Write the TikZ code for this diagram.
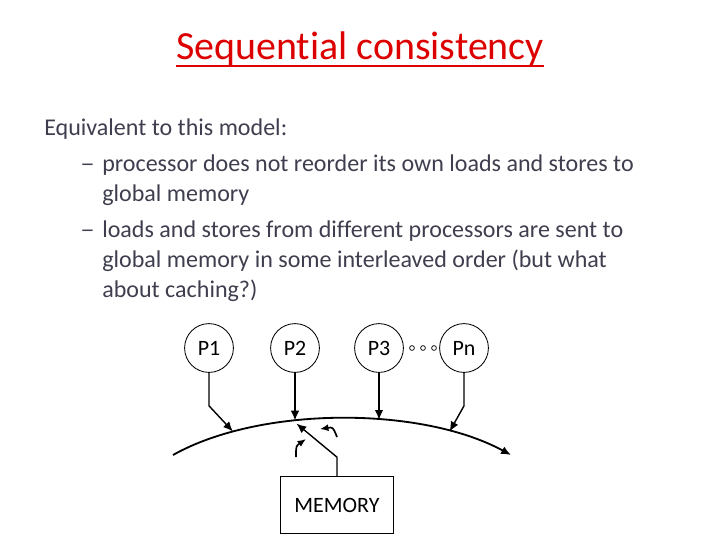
\documentclass[tikz,border=0pt]{standalone}
\usepackage{fontspec}
\setmainfont{Carlito}[Ligatures={NoCommon}]
\usetikzlibrary{arrows.meta}

\definecolor{titlered}{RGB}{220,0,0}
\definecolor{bodygray}{RGB}{62,62,78}

\newcommand{\titlesize}{\fontsize{28.4pt}{34pt}\selectfont}
\newcommand{\bodysize}{\fontsize{17.1pt}{21pt}\selectfont}
\newcommand{\figsize}{\fontsize{15.6pt}{19pt}\selectfont}

\begin{document}
\begin{tikzpicture}[
    x=0.025cm, y=-0.025cm,
    title/.style={
        anchor=base,
        inner sep=0pt,
        text=titlered,
        font=\titlesize
    },
    line/.style={
        anchor=base west,
        inner sep=0pt,
        text=bodygray,
        font=\bodysize
    },
    proc/.style={
        draw,
        circle,
        line width=0.6pt,
        minimum size=1.22cm,
        inner sep=0pt,
        font=\figsize
    },
    dot/.style={
        draw,
        circle,
        line width=0.5pt,
        minimum size=0.12cm,
        inner sep=0pt
    },
    membox/.style={
        draw,
        line width=0.6pt,
        minimum width=2.82cm,
        minimum height=1.42cm,
        inner sep=0pt,
        font=\figsize
    },
    arrow/.style={-{Latex[length=7pt,width=6pt]}, line width=1pt},
    bus/.style={-{Latex[length=7pt,width=6pt]}, line width=1.3pt},
    hook/.style={-{Latex[length=6pt,width=5pt]}, line width=1.2pt}
]
\useasboundingbox (0,0) rectangle (720,540);

% ---------------------------------------------------------------------------
% Title and text
% ---------------------------------------------------------------------------
\node[title] (head) at (360,59) {Sequential consistency};
\draw[titlered, line width=1.5pt] ([yshift=-5pt]head.base west) -- ([yshift=-5pt]head.base east);

\node[line] (intro) at (44,135) {Equivalent to this model:};
\node[line] (dashA) at (80,171) {\scalebox{1.2}[1]{–}};
\node[line] (itemA) at (102,171) {processor does not reorder its own loads and stores to};
\node[line] (itemAb) at (102,201) {global memory};
\node[line] (dashB) at (80,237) {\scalebox{1.2}[1]{–}};
\node[line] (itemB) at (102,237) {loads and stores from different processors are sent to};
\node[line] (itemBb) at (102,267) {global memory in some interleaved order (but what};
\node[line] (itemBc) at (102,297) {about caching?)};

% ---------------------------------------------------------------------------
% Processors
% ---------------------------------------------------------------------------
\node[proc] (p1) at (209,348) {P1};
\node[proc] (p2) at (295,348) {P2};
\node[proc] (p3) at (379,348) {P3};
\node[proc] (pn) at (464,348) {Pn};

\node[dot] (d1) at (412,348) {};
\node[dot] (d2) at (423,348) {};
\node[dot] (d3) at (434,348) {};

% ---------------------------------------------------------------------------
% Memory
% ---------------------------------------------------------------------------
\node[membox] (mem) at (337,505) {MEMORY};

% ---------------------------------------------------------------------------
% Interleaving line
% ---------------------------------------------------------------------------
\coordinate (busL) at (173,455);
\coordinate (busR) at (511,455);
\draw[bus] (busL) .. controls +(87,-49) and +(-90,-49) ..
    coordinate[pos=0.2] (j1) coordinate[pos=0.375] (j2)
    coordinate[pos=0.605] (j3) coordinate[pos=0.8] (jn) (busR);

% ---------------------------------------------------------------------------
% Arrows — Processors to line
% ---------------------------------------------------------------------------
\draw[arrow] (p1.south) -- ++(0,33) -- (j1);
\draw[arrow] (p2.south) -- (p2.south |- j2);
\draw[arrow] (p3.south) -- (p3.south |- j3);
\draw[arrow] (pn.south) -- ++(0,33) -- (jn);

% Memory to line
\draw[arrow] (mem.north) -- ++(0,-19) -- ([shift={(2,3)}]j2);

% Small turning arrows
\coordinate (hookA) at (296,457);
\coordinate (hookAend) at (306,439);
\coordinate (hookB) at (337,437);
\coordinate (hookBend) at (320,429);
\draw[hook] (hookA) .. controls (296,446) .. (hookAend);
\draw[hook] (hookB) .. controls (333,427) .. (hookBend);

\end{tikzpicture}
\end{document}
